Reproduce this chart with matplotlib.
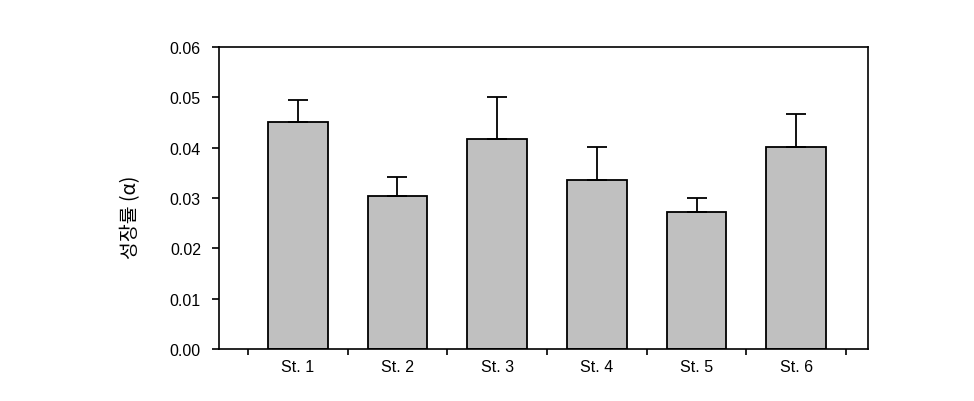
import matplotlib
matplotlib.use("Agg")
import matplotlib.pyplot as plt
import numpy as np

categories = ["St. 1", "St. 2", "St. 3", "St. 4", "St. 5", "St. 6"]
values = [0.0451, 0.0304, 0.0417, 0.0336, 0.0272, 0.0401]
errors = [0.0044, 0.0038, 0.0084, 0.0065, 0.0028, 0.0066]
yticks = [0.00, 0.01, 0.02, 0.03, 0.04, 0.05, 0.06]
ylabel = "성장률 (α)"

plt.rcParams['font.family'] = ['Liberation Sans', 'Noto Sans CJK KR', 'DejaVu Sans']

fig = plt.figure(figsize=(9.74, 4.02), dpi=100)
ax = fig.add_axes([219/974, 1-350/402, (868-219)/974, (350-48)/402])

x = np.arange(len(categories))
ax.bar(x, values, width=0.6, color="#c0c0c0", edgecolor="black", linewidth=1.3, zorder=2)
ax.errorbar(x, values, yerr=[np.zeros(len(errors)), errors], fmt="none",
            ecolor="black", elinewidth=1.3, capsize=7, capthick=1.3, zorder=3)

ax.set_xlim(-0.79, 5.72)
ax.set_ylim(0, 0.06)
ax.set_yticks(yticks)
ax.set_yticklabels([f"{t:.2f}" for t in yticks], fontsize=11.5)
ax.set_xticks(np.arange(-0.5, 6.0, 1.0))
ax.set_xticklabels([])
ax.set_xticks(x, minor=True)
ax.set_xticklabels(categories, minor=True, fontsize=11.5)
ax.tick_params(axis="x", which="minor", length=0, pad=7)
ax.tick_params(axis="x", which="major", direction="out", length=4, width=1.2)
ax.tick_params(axis="y", direction="out", length=5, width=1.2, pad=8)
for s in ax.spines.values():
    s.set_linewidth(1.2)

ax.set_ylabel(ylabel, fontsize=14, family=['Noto Sans CJK KR', 'DejaVu Sans'])
ax.yaxis.set_label_coords(-0.12, 0.44)

fig.savefig("out.png", dpi=100)
